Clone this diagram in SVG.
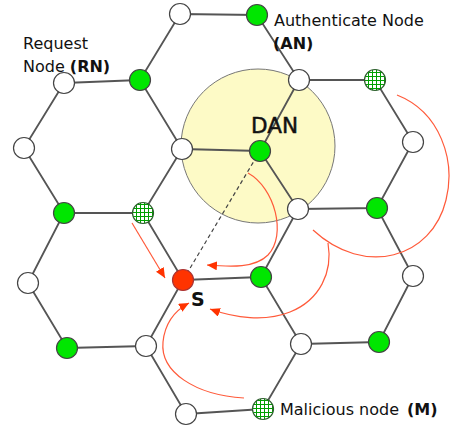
<svg xmlns="http://www.w3.org/2000/svg" width="450" height="431" viewBox="0 0 450 431">
<style>
.e{stroke:#555;stroke-width:1.8;fill:none}
.n{stroke:#444;stroke-width:1.2}
.w{fill:#fff}
.g{fill:#00e600}
.h{fill:url(#hatch);stroke:#2d5f2d}
.r{fill:#ff3300;stroke:#a33}
.arc{fill:none;stroke:#ff5a3a;stroke-width:1.2}
.t{font-family:"DejaVu Sans",Verdana,sans-serif;font-size:16px;fill:#111}
.b{font-weight:bold}
</style>
<defs>
<pattern id="hatch" patternUnits="userSpaceOnUse" width="4" height="4">
<rect width="4" height="4" fill="#fff"/>
<path d="M0.5,0V4M0,0.5H4" stroke="#00a000" stroke-width="1"/>
</pattern>
<marker id="ah" markerUnits="userSpaceOnUse" markerWidth="10" markerHeight="9" refX="10" refY="4.5" orient="auto">
<path d="M0,0L10,4.5L0,9z" fill="#ff3300"/>
</marker>
</defs>
<g id="dan-range"><circle cx="258" cy="146" r="77" fill="#fdfac6" stroke="#777" stroke-width="1"/></g>
<g id="connectors">
<path class="e" d="M180,14L257,15M180,14L140,80M257,15L299,80M140,80L182,149M299,80L260,151M182,149L260,151"/>
<path class="e" d="M64,83L140,80M182,149L143,213M143,213L64,213M64,213L24,148M24,148L64,83"/>
<path class="e" d="M299,80L375,80M375,80L413,142M413,142L377,208M377,208L298,209M298,209L260,151"/>
<path class="e" d="M143,213L183,280M183,280L261,277M261,277L298,209"/>
<path class="e" d="M64,213L28,283M28,283L67,348M67,348L146,346M146,346L183,280"/>
<path class="e" d="M261,277L301,344M301,344L263,409M263,409L186,414M186,414L146,346"/>
<path class="e" d="M377,208L413,276M413,276L379,342M379,342L301,344"/>
<path d="M183,280L260,151" stroke="#444" stroke-width="1.2" stroke-dasharray="4,3" fill="none"/>
</g>
<g id="nodes">
<g id="n1"><circle class="n w" cx="180" cy="14" r="10.5"/></g>
<g id="n2"><circle class="n g" cx="257" cy="15" r="10.5"/></g>
<g id="n3"><circle class="n w" cx="64" cy="83" r="10.5"/></g>
<g id="n4"><circle class="n g" cx="140" cy="80" r="10.5"/></g>
<g id="n5"><circle class="n w" cx="299" cy="80" r="10.5"/></g>
<g id="n6"><circle class="n h" cx="375" cy="80" r="10.5"/></g>
<g id="n7"><circle class="n w" cx="24" cy="148" r="10.5"/></g>
<g id="n8"><circle class="n w" cx="182" cy="149" r="10.5"/></g>
<g id="n9"><circle class="n g" cx="260" cy="151" r="10.5"/></g>
<g id="n10"><circle class="n w" cx="413" cy="142" r="10.5"/></g>
<g id="n11"><circle class="n g" cx="64" cy="213" r="10.5"/></g>
<g id="n12"><circle class="n h" cx="143" cy="213" r="10.5"/></g>
<g id="n13"><circle class="n w" cx="298" cy="209" r="10.5"/></g>
<g id="n14"><circle class="n g" cx="377" cy="208" r="10.5"/></g>
<g id="n15"><circle class="n w" cx="28" cy="283" r="10.5"/></g>
<g id="n16"><circle class="n r" cx="183" cy="280" r="10.5"/></g>
<g id="n17"><circle class="n g" cx="261" cy="277" r="10.5"/></g>
<g id="n18"><circle class="n w" cx="413" cy="276" r="10.5"/></g>
<g id="n19"><circle class="n g" cx="67" cy="348" r="10.5"/></g>
<g id="n20"><circle class="n w" cx="146" cy="346" r="10.5"/></g>
<g id="n21"><circle class="n w" cx="301" cy="344" r="10.5"/></g>
<g id="n22"><circle class="n g" cx="379" cy="342" r="10.5"/></g>
<g id="n23"><circle class="n w" cx="186" cy="414" r="10.5"/></g>
<g id="n24"><circle class="n h" cx="263" cy="409" r="10.5"/></g>
</g>
<g id="attacks">
<path class="arc" d="M132,223L165,278" marker-end="url(#ah)"/>
<path class="arc" d="M248,173C275,188 287,235 268,255C255,268 232,267 207,265" marker-end="url(#ah)"/>
<path class="arc" d="M328,243C333,272 320,300 290,312C265,322 235,318 210,309" marker-end="url(#ah)"/>
<path class="arc" d="M244,398C195,395 160,372 163,342C165,322 176,310 189,303" marker-end="url(#ah)"/>
<path class="arc" d="M397,95C440,112 456,160 446,200C432,258 365,278 313,230"/>
</g>
<g id="labels">
<text class="t" x="23" y="49">Request</text>
<text class="t" x="23" y="72">Node <tspan class="b">(RN)</tspan></text>
<text class="t" x="274" y="26">Authenticate Node</text>
<text class="t b" x="273" y="49">(AN)</text>
<text class="t" x="251" y="133" style="font-size:21.5px;stroke:#111;stroke-width:0.5">DAN</text>
<text class="t b" x="191" y="306" style="font-size:19px">S</text>
<text class="t" x="280" y="415">Malicious node</text>
<text class="t b" x="407" y="415">(M)</text>
</g>
</svg>
